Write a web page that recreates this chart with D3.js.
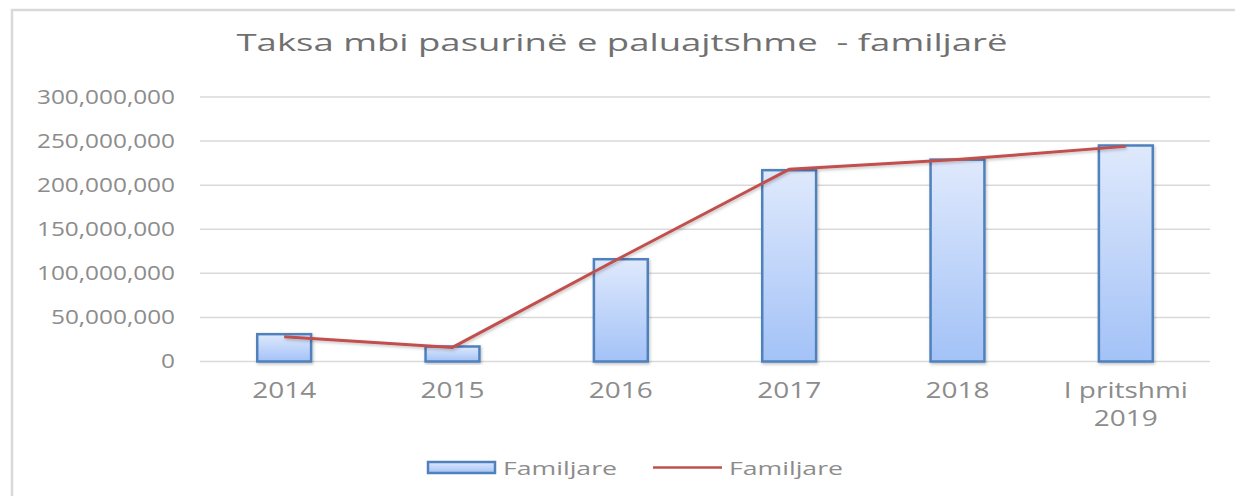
<!DOCTYPE html>
<html>
<head>
<meta charset="utf-8">
<script src="https://cdn.jsdelivr.net/npm/d3@7"></script>
<style>
    html, body { margin: 0; padding: 0; background: #fff; }
    svg { display: block; font-family: "Open Sans", sans-serif; }
</style>
</head>
<body>
<svg id="chart" width="1235" height="496"></svg>
<script>
// Data
const categories = ["2014", "2015", "2016", "2017", "2018", "I pritshmi 2019"];
const barValues = [31000000, 17000000, 116000000, 217000000, 229000000, 245000000];
const lineValues = [28000000, 16000000, 118000000, 218000000, 229000000, 244000000];
const yTicks = [0, 50000000, 100000000, 150000000, 200000000, 250000000, 300000000];
const title = "Taksa mbi pasurinë e paluajtshme  - familjarë";
const seriesName = "Familjare";

const svg = d3.select("#chart");
const W = 1235, H = 496;
const margin = { left: 200, right: 25, top: 97, bottom: 134.5 };

// Chart frame (only left and top edges are visible in the crop)
svg.append("path")
    .attr("d", `M12,${H} L12,10 L${W},10`)
    .attr("fill", "none")
    .attr("stroke", "#d9d9d9")
    .attr("stroke-width", 2.5);

const defs = svg.append("defs");
const grad = defs.append("linearGradient")
    .attr("id", "barGrad")
    .attr("x1", 0).attr("y1", 0).attr("x2", 0).attr("y2", 1);
grad.append("stop").attr("offset", "0%").attr("stop-color", "#dfe9fc");
grad.append("stop").attr("offset", "100%").attr("stop-color", "#a3c2f7");

const shadow = defs.append("filter").attr("id", "shadow")
    .attr("x", "-20%").attr("y", "-20%").attr("width", "140%").attr("height", "140%");
shadow.append("feDropShadow")
    .attr("dx", 1).attr("dy", 1.5).attr("stdDeviation", 1.5)
    .attr("flood-color", "#000").attr("flood-opacity", 0.25);

// Scales
const x = d3.scaleBand()
    .domain(categories)
    .range([margin.left, W - margin.right])
    .paddingInner(0.68)
    .paddingOuter(0.34);

const y = d3.scaleLinear()
    .domain([0, 300000000])
    .range([H - margin.bottom, margin.top]);

// Gridlines
svg.append("g")
    .selectAll("line")
    .data(yTicks)
    .join("line")
    .attr("x1", margin.left)
    .attr("x2", W - margin.right)
    .attr("y1", d => y(d))
    .attr("y2", d => y(d))
    .attr("stroke", "#d9d9d9")
    .attr("stroke-width", 1.5);

// Y axis labels
const yAxis = svg.append("g")
    .attr("transform", `translate(${margin.left},0)`)
    .call(d3.axisLeft(y).tickValues(yTicks).tickSize(0).tickPadding(25).tickFormat(d3.format(",")))
    .call(g => g.select(".domain").remove());
yAxis.selectAll("text")
    .attr("font-family", "'Open Sans', sans-serif")
    .attr("font-size", 19.5)
    .attr("fill", "#8c8c8c");

// X axis labels
const xAxis = svg.append("g")
    .attr("transform", `translate(0,${y(0)})`)
    .call(d3.axisBottom(x).tickSize(0).tickPadding(0))
    .call(g => g.select(".domain").remove());
xAxis.selectAll("text")
    .attr("font-family", "'Open Sans', sans-serif")
    .attr("font-size", 21)
    .attr("fill", "#8c8c8c")
    .attr("dy", null)
    .attr("y", 36)
    .each(function(d) {
        const t = d3.select(this);
        t.text(null);
        const words = d === "I pritshmi 2019" ? ["I pritshmi", "2019"] : [d];
        words.forEach((w, i) => {
            t.append("tspan").attr("x", 0).attr("dy", i === 0 ? 0 : 28).text(w);
        });
    });

// Bars
svg.append("g")
    .selectAll("rect")
    .data(categories)
    .join("rect")
    .attr("x", d => x(d))
    .attr("width", x.bandwidth())
    .attr("y", (d, i) => y(barValues[i]))
    .attr("height", (d, i) => y(0) - y(barValues[i]))
    .attr("fill", "url(#barGrad)")
    .attr("stroke", "#4f81bd")
    .attr("stroke-width", 2.5)
    .attr("filter", "url(#shadow)");

// Line
const line = d3.line()
    .x((d, i) => x(categories[i]) + x.bandwidth() / 2)
    .y(d => y(d));
svg.append("path")
    .datum(lineValues)
    .attr("d", line)
    .attr("fill", "none")
    .attr("stroke", "#c0504d")
    .attr("stroke-width", 3)
    .attr("stroke-linejoin", "round")
    .attr("filter", "url(#shadow)");

// Title
svg.append("text")
    .attr("class", "title")
    .attr("x", 622)
    .attr("y", 51)
    .attr("text-anchor", "middle")
    .attr("font-family", "'Open Sans', sans-serif")
    .attr("font-size", 24)
    .attr("fill", "#707070")
    .style("white-space", "pre")
    .text(title);

// Legend
const legend = svg.append("g").attr("transform", "translate(428,467.5)");
legend.append("rect")
    .attr("x", 0).attr("y", -5.5)
    .attr("width", 67).attr("height", 11)
    .attr("fill", "url(#barGrad)")
    .attr("stroke", "#4f81bd")
    .attr("stroke-width", 2.5);
legend.append("text")
    .attr("class", "legtext")
    .attr("x", 75).attr("y", 7)
    .attr("font-size", 18.5)
    .attr("fill", "#8c8c8c")
    .text(seriesName);
legend.append("line")
    .attr("x1", 225).attr("x2", 294)
    .attr("y1", 0).attr("y2", 0)
    .attr("stroke", "#c0504d")
    .attr("stroke-width", 2.5);
legend.append("text")
    .attr("class", "legtext")
    .attr("x", 301).attr("y", 7)
    .attr("font-size", 18.5)
    .attr("fill", "#8c8c8c")
    .text(seriesName);

// The reference text is drawn horizontally stretched; widen each text the same way
function stretch(sel, factor) {
    sel.each(function() {
        const len = this.getComputedTextLength();
        d3.select(this)
            .attr("textLength", len * factor)
            .attr("lengthAdjust", "spacingAndGlyphs");
    });
}
stretch(svg.selectAll(".title"), 771 / svg.select(".title").node().getComputedTextLength());
const yRef = yAxis.selectAll("text").nodes().find(n => n.textContent === "300,000,000");
stretch(yAxis.selectAll("text"), 138 / yRef.getComputedTextLength());
const xRef = xAxis.selectAll("tspan").nodes()[0];
const xFactor = 64 / xRef.getComputedTextLength();
stretch(xAxis.selectAll("tspan"), xFactor);
stretch(svg.selectAll(".legtext"), 114 / svg.select(".legtext").node().getComputedTextLength());
</script>
</body>
</html>
